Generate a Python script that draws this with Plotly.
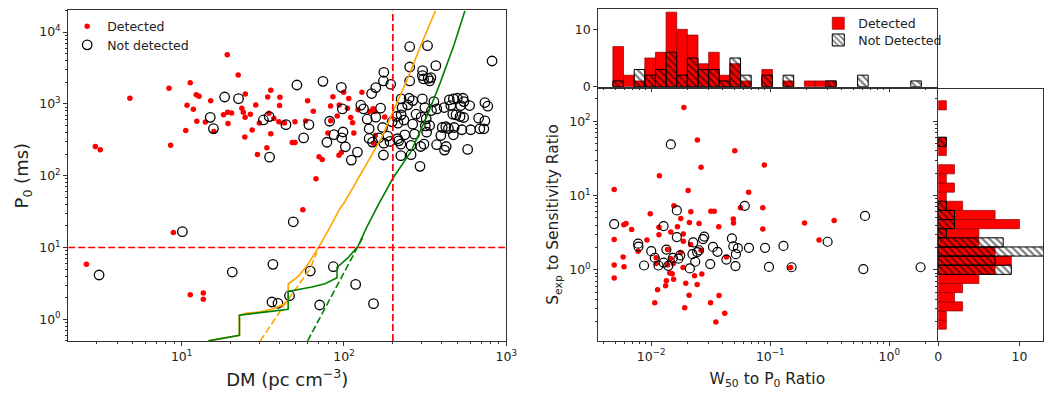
import numpy as np
import plotly.graph_objects as go

# ---------------- left panel: DM vs P0 ----------------
det_dm = [2.59, 2.94, 3.15, 4.80, 8.36, 8.55, 8.89, 10.6, 10.8, 11.3, 11.3, 11.8, 12.3, 12.8, 12.4,
          13.6, 13.6, 14.0, 15.1, 15.8, 18.1, 19.1, 19.3, 19.2, 20.3, 22.3, 23.5, 24.0, 24.7, 24.5,
          24.6, 26.5, 27.2, 28.6, 29.3, 30.1, 33.9, 33.5, 34.5, 35.4, 35.4, 37.0, 40.3, 40.1, 39.7,
          43.0, 49.9, 48.0, 49.9, 59.7, 58.0, 64.7, 67.2, 55.8, 70.2, 73.5, 79.6, 82.7, 85.5, 90.9,
          93.1, 96.3, 99.6, 93.5, 105, 82.8,
          107, 110, 113, 115, 122, 129, 144, 151, 155, 156, 152, 178]
det_p0 = [5.82, 255, 229, 1197, 1649, 265, 16.2, 425, 955, 1972, 2.20, 841, 1345, 1274, 573,
          2.32, 1.90, 561, 1109, 411, 708, 4844, 531, 764, 748, 2524, 869, 764, 1374, 347,
          650, 716, 434, 966, 197, 543, 1247, 244, 740, 1545, 385, 624, 1236, 946, 566,
          543, 566, 289, 289, 1109, 578, 789, 90.3, 33.5, 183, 168, 394, 935, 1262, 679,
          193, 210, 1449, 968, 871, 581,
          1186, 646, 545, 392, 826, 1452, 783, 853, 783, 363, 284, 659]

nd_dm = [3.10, 10.1, 15.0, 15.7, 18.4, 20.5, 22.4, 31.9, 34.6, 34.8, 36.5, 36.0, 39.2, 43.9, 46.2,
         48.7, 51.3, 56.4, 60.8, 62.0, 70.8, 74.2, 78.5, 81.6, 86.8, 86.0, 96.3, 97.7, 98.6, 96.8,
         118, 152,
         254, 327, 817, 254, 368, 305, 176, 304, 309, 330, 343, 337, 175, 254, 194, 157, 148,
         225, 252, 265, 304, 358, 446, 472, 499, 541, 548, 228, 247, 315, 346, 373, 414, 455,
         524, 594, 738, 769, 168, 127, 132, 139, 157, 211, 225, 234, 278, 299, 321, 468, 490,
         519, 546, 675, 738, 143, 173, 198, 215, 265, 317, 337, 403, 424, 440, 477, 533, 603,
         687, 727, 143, 164, 186, 214, 237, 272, 323, 395, 472, 102, 150, 176, 192, 217, 224,
         259, 297, 311, 372, 426, 416, 578, 111, 121, 175, 224, 259, 294]
nd_p0 = [4.14, 16.6, 650, 453, 1247, 4.55, 1183, 597, 665, 181, 5.82, 1.74, 1.67, 514, 2.13,
         22.8, 1832, 336, 514, 4.70, 1.58, 2060, 292, 573, 373, 5.40, 1702, 850, 406, 336,
         3.06, 1.65,
         6257, 6457, 3958, 3265, 3406, 2904, 2754, 2477, 2224, 2271, 2322, 2085, 2085, 2085, 1875, 1686, 1393,
         1173, 1199, 1112, 1173, 1077, 1137, 1173, 1199, 1199, 1077, 889, 969, 889, 808, 852, 889, 948,
         948, 948, 1044, 928, 871, 958, 852, 612, 653, 667, 703, 593, 718, 653, 619, 718, 703,
         667, 646, 632, 581, 450, 469, 562, 539, 522, 495, 500, 469, 480, 454, 469, 436, 436,
         450, 450, 330, 337, 356, 327, 371, 379, 404, 363, 371, 253, 294, 284, 300, 306, 275,
         264, 255, 275, 270, 255, 227, 232, 165, 213, 194, 190, 196, 135]

# sensitivity limit curves
orange_dm = [14.6, 22.7, 22.7, 25.4, 30.5, 36.7, 42.3, 45.3, 45.3, 52.5, 59.0, 69.5, 82.0, 94.4,
             101, 134, 170, 205, 247, 298, 366]
orange_p0 = [0.5, 0.6, 1.14, 1.22, 1.27, 1.4, 1.62, 1.85, 3.1, 4.0, 5.5, 9.9, 19, 35,
             43, 128, 333, 871, 2270, 6590, 19800]
orange_dash_dm = [30.5, 45.0, 61.4, 68.0]
orange_dash_p0 = [0.5, 1.85, 4.9, 8.6]
green_dm = [14.6, 22.7, 22.7, 45.3, 45.3, 52.5, 63.4, 76.4, 90.6, 90.6, 106, 122, 137, 162,
            200, 259, 327, 394, 476, 556]
green_p0 = [0.5, 0.6, 1.14, 1.38, 2.45, 2.6, 2.82, 3.13, 3.8, 5.3, 7.2, 10.4, 18.5, 38.5,
            92, 218, 703, 2042, 6590, 19800]
green_dash_dm = [59.7, 122, 132]
green_dash_p0 = [0.5, 10.4, 14.5]

DM_CUT = 200
P0_CUT = 10

# ---------------- right panel: W50/P0 vs Sexp/sensitivity ----------------
det_w = [0.0188, 0.0244, 0.0503, 0.0891, 0.0262, 0.0117, 0.00488, 0.0204, 0.0658, 0.0155,
         0.0561, 0.0865, 0.0317, 0.0338, 0.0215, 0.0098, 0.0177, 0.0489, 0.00588, 0.00614,
         0.0209, 0.0252, 0.0491, 0.194, 0.344, 0.00684, 0.0116, 0.0166, 0.0369, 0.0865,
         0.0146, 0.0116, 0.0186, 0.00488, 0.0092, 0.0186, 0.257, 0.0214, 0.00776, 0.0137,
         0.0262, 0.0177, 0.0058, 0.011, 0.0145, 0.0428, 0.0153, 0.00488, 0.0059, 0.011,
         0.0137, 0.0185, 0.148, 0.0143, 0.015, 0.0231, 0.0266, 0.00488, 0.0154, 0.0134,
         0.0195, 0.0243, 0.0132, 0.0113, 0.0208, 0.0371, 0.0107, 0.0315, 0.0191, 0.0414, 0.0349]
det_s = [153, 56.1, 40.2, 25.8, 24.0, 18.4, 12.0, 11.7, 11.1, 7.26,
         6.84, 6.84, 6.11, 6.11, 6.05, 5.69, 4.89, 4.84, 4.04, 4.21,
         4.34, 4.21, 4.25, 4.25, 4.60, 3.47, 3.72, 3.80, 3.80, 3.54,
         3.23, 2.95, 3.04, 2.56, 2.51, 2.41, 2.51, 2.18, 1.78, 1.87,
         1.83, 1.71, 1.48, 1.45, 1.42, 1.48, 1.21, 1.16, 1.10, 1.21,
         1.16, 1.07, 1.07, 0.90, 0.88, 0.83, 0.875, 0.775, 0.744, 0.708,
         0.659, 0.633, 0.608, 0.538, 0.453, 0.449, 0.359, 0.359, 0.308, 0.26, 0.197]
nd_w = [0.0146, 0.061, 0.0164, 0.625, 0.00488, 0.0127, 0.0164, 0.0279, 0.0272, 0.0476, 0.303,
        0.00776, 0.0225, 0.00781, 0.129, 0.033, 0.0489, 0.0534, 0.0662, 0.0904, 0.01, 0.0134,
        0.0252, 0.036, 0.0243, 0.0107, 0.0222, 0.0175, 0.0514, 0.0152, 0.0169, 0.0428, 0.0234,
        0.0127, 0.0087, 0.0115, 0.0139, 0.0313, 0.051, 0.0975, 0.151, 0.0211, 0.605, 1.83]
nd_s = [48.7, 7.26, 6.3, 5.3, 4.12, 3.87, 2.75, 2.80, 2.59, 2.64, 2.38,
        2.24, 2.33, 2.05, 2.09, 2.03, 2.07, 1.95, 1.97, 1.97, 1.78, 1.87,
        1.83, 1.74, 1.73, 1.45, 1.62, 1.56, 1.62, 1.44, 1.41, 1.37, 1.28,
        1.25, 1.14, 1.14, 1.13, 1.19, 1.12, 1.09, 1.08, 1.04, 1.02, 1.08]

# histogram counts (log-spaced bins)
w_bin_lo, w_bin_hi = 0.00476, 1.86
w_det_counts = [7, 2, 1, 5, 6, 13, 10, 9, 4, 6, 2, 4, 1, 0, 3, 0, 1, 0, 1, 1, 1, 0, 0, 0, 0, 0, 0, 0, 0]
w_nd_counts = [1, 0, 3, 2, 3, 6, 2, 5, 3, 3, 1, 5, 2, 0, 2, 0, 2, 0, 0, 0, 1, 0, 0, 2, 0, 0, 0, 0, 1]
s_bin_lo, s_bin_hi = 0.158, 189.0
s_det_counts = [1, 1, 3, 2, 3, 5, 7, 9, 7, 5, 5, 10, 7, 3, 1, 2, 1, 2, 0, 1, 1, 0, 0, 0, 1]
s_nd_counts = [0, 0, 0, 0, 0, 0, 9, 7, 13, 8, 1, 2, 2, 1, 0, 0, 0, 0, 0, 0, 1, 0, 0, 0, 0]


def log_bins(lo, hi, n):
    edges = np.linspace(np.log10(lo), np.log10(hi), n + 1)
    return (edges[:-1] + edges[1:]) / 2, edges[1] - edges[0]


def nz(vals):
    return [v if v else None for v in vals]


def minor_vals(e0, e1):
    return [m * 10.0 ** e for e in range(e0, e1 + 1) for m in range(2, 10)]


# the page body keeps its 8px margin, so the figure is 16px smaller than the window
W, H, PAD = 1047, 382, 8


def xdom(a, b):
    return [(a - PAD) / W, (b - PAD) / W]


def ydom(top, bottom):
    return [1 - (bottom - PAD) / H, 1 - (top - PAD) / H]


RED = "#ff0000"
FONT = "DejaVu Sans"
AX = "#333333"
DASH = "7px,3px"

fig = go.Figure()

# left scatter
fig.add_trace(go.Scatter(x=det_dm, y=det_p0, mode="markers", name="Detected",
                         marker=dict(color=RED, size=5.5), legend="legend"))
fig.add_trace(go.Scatter(x=nd_dm, y=nd_p0, mode="markers", name="Not detected",
                         marker=dict(color="rgba(0,0,0,0)", size=9.5, line=dict(color="black", width=1.3)),
                         legend="legend3"))
for xs, ys, col, dash in [(orange_dm, orange_p0, "#ffa500", "solid"),
                          (orange_dash_dm, orange_dash_p0, "#ffa500", DASH),
                          (green_dm, green_p0, "#008000", "solid"),
                          (green_dash_dm, green_dash_p0, "#008000", DASH)]:
    fig.add_trace(go.Scatter(x=xs, y=ys, mode="lines", showlegend=False,
                             line=dict(color=col, width=1.6, dash=dash)))
fig.add_trace(go.Scatter(x=[DM_CUT, DM_CUT], y=[0.5, 2e4], mode="lines", showlegend=False,
                         line=dict(color=RED, width=1.7, dash=DASH)))
fig.add_trace(go.Scatter(x=[2, 1000], y=[P0_CUT, P0_CUT], mode="lines", showlegend=False,
                         line=dict(color=RED, width=1.7, dash=DASH)))

# right scatter
fig.add_trace(go.Scatter(x=det_w, y=det_s, mode="markers", showlegend=False,
                         marker=dict(color=RED, size=5.5), xaxis="x2", yaxis="y2"))
fig.add_trace(go.Scatter(x=nd_w, y=nd_s, mode="markers", showlegend=False,
                         marker=dict(color="rgba(0,0,0,0)", size=9, line=dict(color="black", width=1.2)),
                         xaxis="x2", yaxis="y2"))

det_bar = dict(color=RED, line=dict(color="rgba(140,0,0,0.7)", width=1))
nd_bar = dict(color="rgba(0,0,0,0)", line=dict(color="black", width=1),
              pattern=dict(shape="\\", fgcolor="black", bgcolor="rgba(0,0,0,0)",
                           size=5, solidity=0.45, fillmode="overlay"))

wc, ww = log_bins(w_bin_lo, w_bin_hi, len(w_det_counts))
fig.add_trace(go.Bar(x=wc, y=nz(w_det_counts), width=ww, marker=det_bar, name="Detected",
                     xaxis="x3", yaxis="y3", legend="legend2"))
fig.add_trace(go.Bar(x=wc, y=nz(w_nd_counts), width=ww, marker=nd_bar, name="Not Detected",
                     xaxis="x3", yaxis="y3", legend="legend4"))

sc, sw = log_bins(s_bin_lo, s_bin_hi, len(s_det_counts))
fig.add_trace(go.Bar(y=sc, x=nz(s_det_counts), width=sw, orientation="h", marker=det_bar,
                     showlegend=False, xaxis="x4", yaxis="y4"))
fig.add_trace(go.Bar(y=sc, x=nz(s_nd_counts), width=sw, orientation="h", marker=nd_bar,
                     showlegend=False, xaxis="x4", yaxis="y4"))

tickfont = dict(family=FONT, size=12.5, color="#222")
common = dict(showline=True, linecolor=AX, linewidth=1, mirror=True, showgrid=False,
              zeroline=False, ticks="outside", ticklen=4, tickcolor=AX, tickfont=tickfont)


def minor(vals):
    return dict(tickvals=vals, ticks="outside", ticklen=2, tickcolor=AX, showgrid=False)


def leg(x, y):
    return dict(x=(x - PAD) / W, y=1 - (y - PAD) / H, xanchor="left", yanchor="middle",
                bgcolor="rgba(0,0,0,0)", font=dict(size=12.5, family=FONT, color="#222"))


W_RANGE = [-2.446, 0.397]
S_RANGE = [-0.955, 2.44]
w_minor = [v for v in minor_vals(-3, 0) if W_RANGE[0] < np.log10(v) < W_RANGE[1]]
s_minor = [v for v in minor_vals(-1, 2) if S_RANGE[0] < np.log10(v) < S_RANGE[1]]

fig.update_layout(
    width=W, height=H, margin=dict(l=0, r=0, t=0, b=0),
    plot_bgcolor="white", paper_bgcolor="white", barmode="overlay", hovermode=False,
    font=dict(family=FONT, color="#222"),
    xaxis=dict(common, type="log", range=[np.log10(2), 3], domain=xdom(65, 509.5), anchor="y",
               tickvals=[10, 100, 1000], ticktext=["10<sup>1</sup>", "10<sup>2</sup>", "10<sup>3</sup>"],
               minor=minor([v for v in minor_vals(0, 2) if v > 2]),
               title=dict(text="DM (pc cm<sup>\u22123</sup>)", font=dict(size=18), standoff=11)),
    yaxis=dict(common, type="log", range=[np.log10(0.5), np.log10(2e4)], domain=ydom(9.5, 347), anchor="x",
               tickvals=[1, 10, 100, 1000, 10000],
               ticktext=["10<sup>0</sup>", "10<sup>1</sup>", "10<sup>2</sup>", "10<sup>3</sup>", "10<sup>4</sup>"],
               minor=minor([v for v in minor_vals(-1, 4) if 0.5 <= v <= 2e4]),
               title=dict(text="P<sub>0</sub> (ms)", font=dict(size=18), standoff=5)),
    xaxis2=dict(common, type="log", range=W_RANGE, domain=xdom(602.7, 946), anchor="y2",
                tickvals=[0.01, 0.1, 1], ticktext=["10<sup>\u22122</sup>", "10<sup>\u22121</sup>", "10<sup>0</sup>"],
                minor=minor(w_minor),
                title=dict(text="W<sub>50</sub> to P<sub>0</sub> Ratio", font=dict(size=15.5), standoff=12)),
    yaxis2=dict(common, type="log", range=S_RANGE, domain=ydom(89.3, 346.7), anchor="x2",
                tickvals=[1, 10, 100], ticktext=["10<sup>0</sup>", "10<sup>1</sup>", "10<sup>2</sup>"],
                minor=minor(s_minor),
                title=dict(text="S<sub>exp</sub> to Sensitivity Ratio", font=dict(size=15.5), standoff=6)),
    xaxis3=dict(common, range=W_RANGE, domain=xdom(602.7, 946), anchor="y3", showticklabels=False,
                tickvals=[-2, -1, 0], minor=minor(list(np.log10(w_minor)))),
    yaxis3=dict(common, range=[0, 13.5], domain=ydom(8.3, 87.3), anchor="x3", tickvals=[0, 10]),
    xaxis4=dict(common, range=[0, 12.9], domain=xdom(947.7, 1054), anchor="y4", tickvals=[0, 10]),
    yaxis4=dict(common, range=S_RANGE, domain=ydom(89.3, 346.7), anchor="x4", showticklabels=False,
                tickvals=[0, 1, 2], minor=minor(list(np.log10(s_minor)))),
    legend=leg(64, 26),
    legend3=leg(64, 45),
    legend2=leg(826, 23),
    legend4=leg(826, 40),
)

fig.write_html("out.html")
